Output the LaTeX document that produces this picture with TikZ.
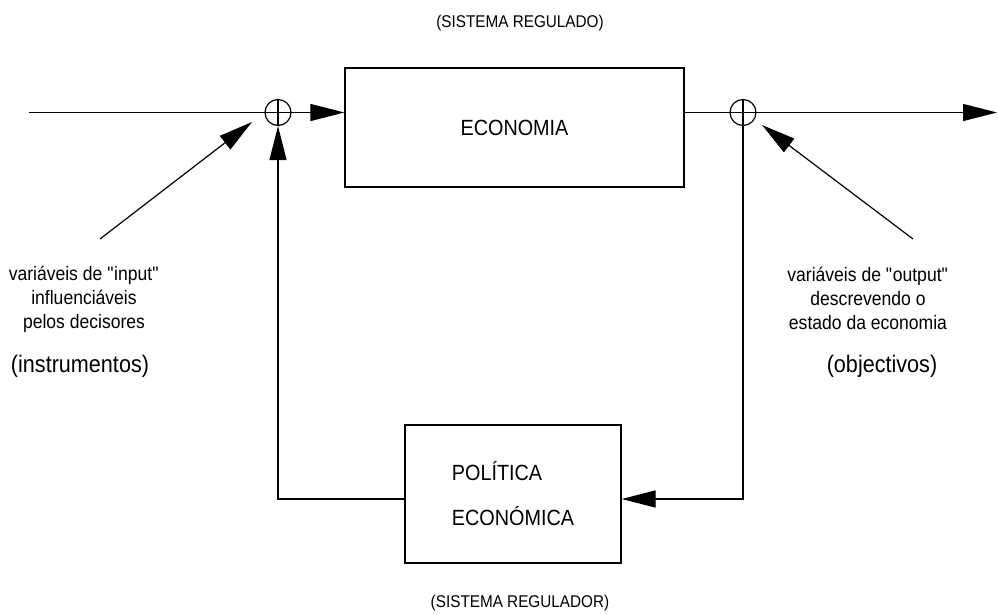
\documentclass[tikz,border=0pt]{standalone}
\usepackage{fontspec}
\setmainfont{Liberation Sans}[FakeStretch=0.9]
\usetikzlibrary{positioning, arrows.meta}

\begin{document}
\begin{tikzpicture}[x=1pt, y=-1pt, line width=1.2pt,
    bloco/.style={draw, rectangle, inner sep=0pt},
    soma/.style={draw, circle, minimum size=26pt, inner sep=0pt},
    seta/.style={-{Triangle[length=34pt, width=17pt]}},
    rotulo/.style={align=center, inner sep=0pt, font=\fontsize{19.5}{24}\selectfont},
    titulo/.style={inner sep=0pt, font=\fontsize{17}{20}\selectfont},
    nota/.style={inner sep=0pt, font=\fontsize{24}{28}\selectfont}]
  \useasboundingbox (0,0) rectangle (998,615);

  % blocos
  \node[titulo] (regulado) at (520,23) {(SISTEMA REGULADO)};
  \node[bloco, minimum width=339pt, minimum height=119pt,
        font=\fontsize{22}{26}\selectfont] (economia) at (514.5,127.5) {ECONOMIA};
  \node[bloco, minimum width=216pt, minimum height=138pt, align=left,
        font=\fontsize{22}{45}\selectfont] (politica) at (513,494) {POLÍTICA\\ECONÓMICA};
  \node[titulo] (regulador) at (520,603) {(SISTEMA REGULADOR)};

  % somadores
  \node[soma] (soma1) at (278,112.5) {};
  \node[soma] (soma2) at (743,112.5) {};
  \draw (soma1.west) -- (soma1.east) (soma1.north) -- (soma1.south);
  \draw (soma2.west) -- (soma2.east) (soma2.north) -- (soma2.south);

  % linha principal
  \coordinate (entrada) at (29,112.5);
  \coordinate (saida) at (997,112.5);
  \draw (entrada) -- (soma1.west);
  \draw[seta] (soma1.east) -- (soma1.east -| economia.west);
  \draw (soma2.west -| economia.east) -- (soma2.west);
  \draw[seta] (soma2.east) -- (saida);

  % realimentacao
  \draw[seta] (soma2.south) |- ([yshift=-5pt]politica.east);
  \draw[seta] ([yshift=-5pt]politica.west) -| (soma1.south);

  % variaveis
  \coordinate (base_in) at (100,239);
  \coordinate (ponta_in) at (252,122);
  \coordinate (base_out) at (913,239);
  \coordinate (ponta_out) at (762,125);
  \draw[seta] (base_in) -- (ponta_in);
  \draw[seta] (base_out) -- (ponta_out);

  \node[rotulo] (input) at (84,299) {variáveis de \textquotedbl input\textquotedbl\\influenciáveis\\pelos decisores};
  \node[nota] (instrumentos) at (80,366) {(instrumentos)};
  \node[rotulo] (output) at (868,298) {variáveis de \textquotedbl output\textquotedbl\\descrevendo o\\estado da economia};
  \node[nota] (objectivos) at (882,366) {(objectivos)};
\end{tikzpicture}
\end{document}
